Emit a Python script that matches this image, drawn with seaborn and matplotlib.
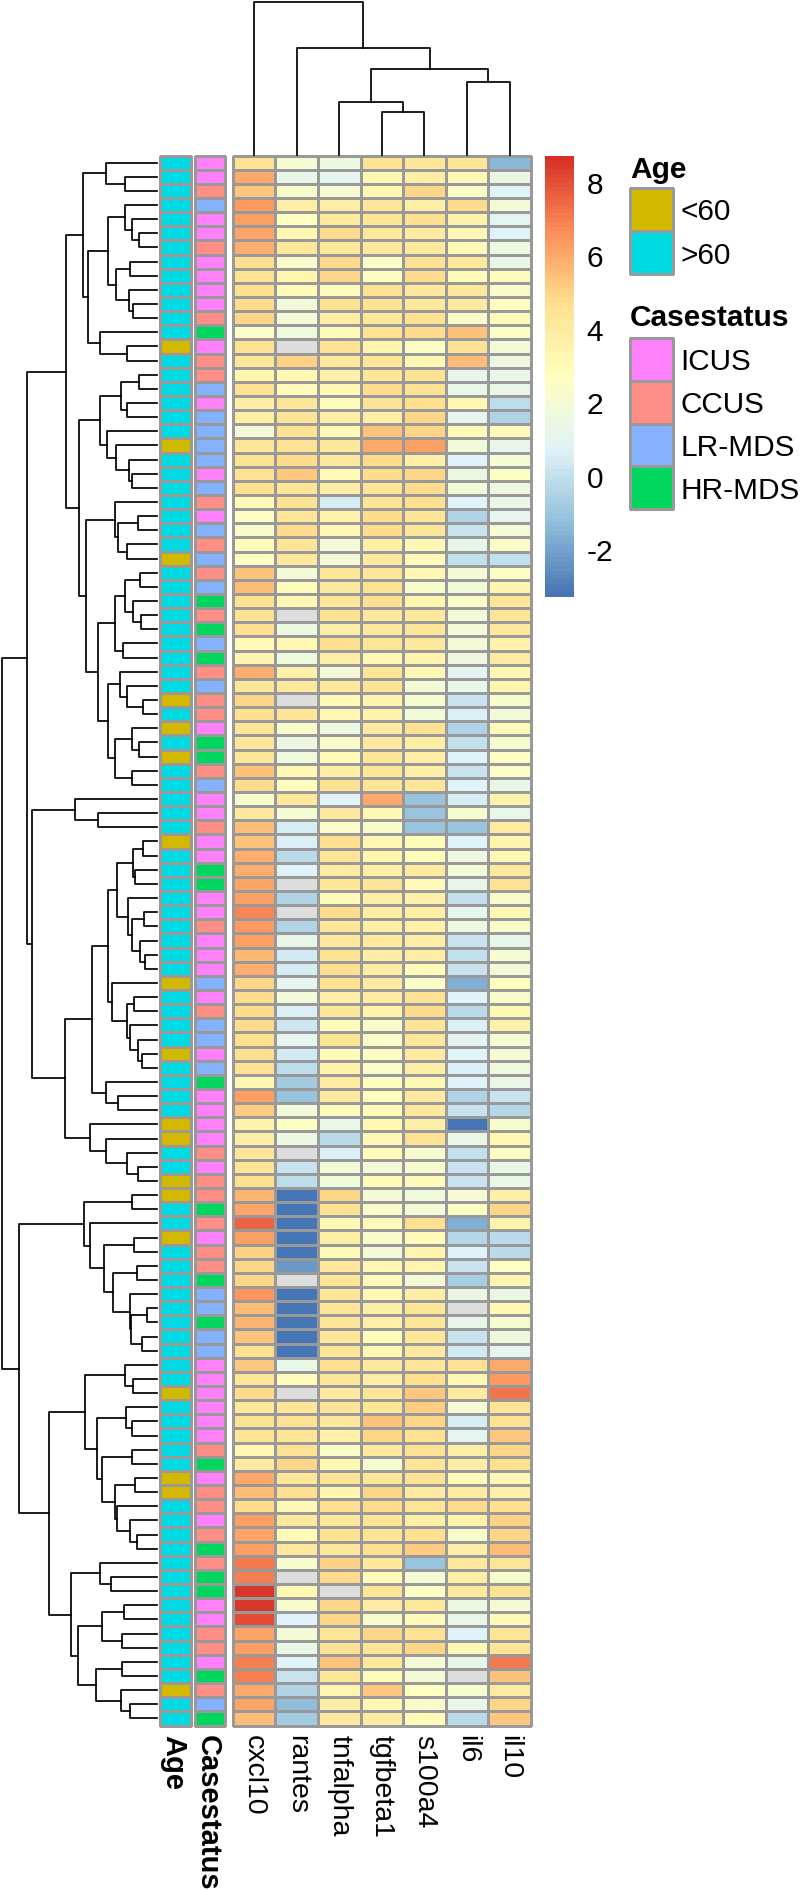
import matplotlib
matplotlib.use('Agg')
import matplotlib.pyplot as plt
from matplotlib.colors import LinearSegmentedColormap, ListedColormap
from matplotlib.transforms import ScaledTranslation, blended_transform_factory
import seaborn as sns
import numpy as np
import pandas as pd

plt.rcParams['font.family'] = ['Liberation Sans', 'DejaVu Sans']
plt.rcParams['axes.unicode_minus'] = False

NA = np.nan

genes = ['cxcl10', 'rantes', 'tnfalpha', 'tgfbeta1', 's100a4', 'il6', 'il10']

cxcl10 = [4.6, 6.0, 5.3, 6.4, 6.3, 6.2, 5.9, 4.7, 4.6, 4.7,
          4.8, 5.0, 2.4, 4.6, 4.3, 3.4, 4.6, 3.8, 3.8, 1.9,
          4.3, 4.6, 4.6, 4.7, 3.0, 2.5, 2.3, 2.9, 2.6, 5.4,
          5.5, 4.6, 4.6, 4.7, 3.0, 3.4, 5.9, 4.3, 5.0, 4.7,
          4.5, 4.3, 4.3, 5.4, 4.8, 2.2, 4.2, 5.6, 5.4, 5.9,
          5.9, 6.2, 6.3, 6.9, 6.4, 6.3, 5.7, 5.9, 4.9, 4.8,
          4.8, 4.8, 4.7, 4.7, 4.6, 3.1, 6.3, 5.2, 3.5, 3.9,
          4.4, 4.5, 4.7, 5.8, 6.1, 7.6, 6.3, 5.1, 5.0, 5.0,
          6.5, 5.5, 5.8, 5.4, 4.7, 5.3, 4.5, 4.8, 4.2, 4.6,
          4.5, 3.2, 4.0, 6.0, 5.6, 4.8, 6.3, 6.1, 6.3, 7.1,
          7.0, 8.5, 8.5, 8.1, 6.2, 6.3, 7.0, 7.0, 6.0, 6.1, 5.5]
rantes = [2.1, 1.3, 2.3, 3.9, 2.7, 3.3, 4.2, 2.3, 3.4, 3.0,
          1.8, 2.0, 1.7, NA, 5.1, 3.3, 2.9, 4.4, 4.5, 4.6,
          4.6, 4.8, 5.3, 4.5, 4.6, 4.3, 4.8, 4.5, 4.2, 2.0,
          2.9, 3.1, NA, 1.6, 3.3, 1.7, 3.6, 4.2, NA, 4.5,
          2.3, 1.5, 1.7, 3.1, 2.8, 4.2, 2.1, 0.5, 0.6, -0.2,
          0.8, NA, -0.4, NA, -0.5, 1.2, 0.4, 0.5, 1.1, 1.8,
          0.6, 0.3, 1.1, 0.4, -0.1, -0.8, -1.0, 1.8, 2.5, 1.6,
          NA, 0.1, -0.1, -3.2, -3.2, -3.2, -3.2, -3.2, -2.3, NA,
          -3.2, -3.2, -3.2, -3.2, -3.2, 1.4, 2.9, NA, 4.3, 4.6,
          4.4, 4.6, 5.0, 4.3, 4.7, 3.1, 4.2, 3.0, 4.1, 2.2,
          NA, 3.3, 2.2, 0.7, 2.0, 1.4, 0.7, 0.1, -0.5, -1.3, -0.8]
tnfalpha = [1.6, 1.1, 2.1, 3.9, 4.1, 4.8, 4.2, 4.8, 4.9, 2.9,
            4.6, 3.9, 3.0, 4.6, 4.1, 3.6, 3.1, 2.9, 3.9, 3.0,
            4.2, 4.2, 3.0, 3.9, 0.5, 3.5, 3.3, 1.9, 1.9, 4.3,
            4.1, 4.3, 4.6, 3.7, 4.7, 3.7, 1.9, 4.2, 3.0, 3.3,
            1.6, 2.3, 3.0, 3.8, 4.6, 0.8, 4.1, 2.4, 4.7, 4.5,
            4.0, 4.4, 3.0, 4.8, 4.3, 4.2, 4.6, 4.7, 4.7, 3.7,
            4.3, 3.0, 4.4, 3.0, 3.5, 4.0, 4.1, 2.9, 1.3, -0.2,
            0.6, 2.0, 1.8, 4.9, 4.6, 3.2, 3.8, 3.0, 4.2, 4.4,
            4.4, 4.3, 4.4, 4.4, 4.3, 4.7, 4.4, 4.0, 4.5, 4.2,
            3.6, 2.4, 3.2, 4.5, 3.4, 4.7, 4.2, 4.6, 4.2, 5.1,
            4.8, NA, 4.9, 5.0, 4.5, 4.6, 5.4, 4.3, 3.4, 3.9, 4.1]
tgfbeta1 = [4.6, 3.3, 3.3, 4.5, 4.4, 4.2, 4.1, 2.4, 2.8, 4.6,
            4.6, 4.2, 4.6, 3.4, 4.4, 4.4, 4.8, 4.6, 3.9, 5.4,
            6.0, 4.8, 4.8, 4.3, 4.5, 4.8, 4.8, 3.8, 4.1, 4.4,
            4.6, 4.7, 4.2, 4.2, 4.4, 3.2, 4.5, 4.5, 3.4, 3.5,
            4.0, 4.1, 4.3, 4.4, 4.5, 6.0, 3.2, 2.3, 3.3, 3.4,
            3.7, 4.5, 3.8, 3.9, 3.8, 4.1, 3.7, 3.9, 4.0, 4.0,
            3.5, 2.3, 2.4, 2.6, 2.4, 2.8, 2.8, 3.0, 3.3, 3.2,
            3.0, 1.9, 3.0, 1.9, 2.4, 3.0, 2.3, 1.9, 3.3, 3.0,
            3.2, 3.7, 3.6, 3.0, 3.1, 4.2, 3.9, 4.3, 4.3, 5.4,
            5.0, 4.1, 2.2, 4.4, 4.9, 4.8, 4.5, 4.5, 4.7, 4.2,
            3.0, 4.5, 4.0, 2.3, 4.9, 4.5, 4.2, 2.9, 5.3, 3.3, 4.0]
s100a4 = [4.4, 3.9, 5.0, 3.7, 4.7, 4.0, 4.0, 4.6, 4.8, 4.2,
          4.2, 4.6, 4.8, 2.6, 3.2, 4.6, 4.6, 4.7, 4.9, 5.0,
          6.3, 3.7, 4.9, 4.8, 4.7, 4.4, 4.3, 3.1, 3.0, 3.3,
          2.3, 3.4, 4.2, 4.4, 4.2, 3.4, 3.1, 2.0, 2.2, 1.8,
          4.6, 3.7, 3.7, 3.7, 4.4, -1.0, -1.1, -1.0, 2.9, 2.9,
          4.0, 3.0, 3.6, 3.7, 3.6, 3.9, 3.9, 3.0, 2.4, 4.6,
          4.8, 4.5, 4.2, 4.0, 3.9, 3.1, 4.1, 4.1, 3.7, 4.6,
          2.2, 2.2, 3.0, 1.7, 2.0, 4.7, 3.0, 3.4, 3.4, 2.0,
          3.9, 4.4, 4.3, 4.3, 4.1, 4.5, 4.7, 5.3, 5.2, 4.9,
          4.6, 4.6, 4.5, 4.6, 4.0, 4.5, 3.8, 4.7, 5.2, -1.0,
          1.9, 2.6, 4.2, 3.0, 4.6, 4.9, 1.9, 1.9, 2.7, 2.3, 3.0]
il6 = [4.4, 3.1, 2.4, 4.8, 3.5, 3.2, 3.0, 4.2, 3.0, 4.2,
       4.1, 2.3, 5.4, 4.6, 5.5, 1.2, 1.3, 3.3, 1.1, 3.0,
       1.8, 0.7, 1.5, 1.8, 0.7, -0.4, 0.2, 1.2, 0.0, 1.9,
       1.8, 2.4, 1.8, 2.0, 2.0, 1.6, 1.0, 1.4, 0.1, 0.6,
       -0.4, 0.0, 0.7, 0.1, 0.7, 0.5, 2.2, -1.0, 0.8, 1.6,
       1.8, 1.2, 0.0, 1.1, 1.6, 0.2, 0.0, 0.1, -1.6, 0.7,
       -0.2, 0.6, 1.0, 0.7, 0.6, 0.8, -0.5, 0.1, -3.2, 1.3,
       0.0, 0.1, 0.1, 2.1, 2.6, -1.7, -0.3, 0.8, 0.1, -0.7,
       1.5, NA, 1.2, 0.1, 0.4, 4.6, 3.2, 4.0, 2.1, 0.5,
       1.0, 3.7, 3.9, 3.0, 4.0, 4.8, 3.5, 2.3, 3.8, 4.2,
       3.8, 4.1, 1.6, 1.4, 0.7, 3.2, 1.2, NA, 2.2, 1.3, -0.2]
il10 = [-1.4, 1.5, 0.9, 2.0, 1.0, 0.7, 1.6, 1.3, 2.9, 2.3,
        2.8, 3.0, 2.6, 2.0, 1.6, 1.3, 1.3, -0.1, -0.4, 2.9,
        1.2, 2.1, 2.6, 1.6, 1.4, 1.1, 2.1, 2.4, 0.0, 2.5,
        3.4, 4.3, 4.5, 4.2, 3.5, 4.0, 3.3, 3.4, 2.2, 1.8,
        3.0, 2.2, 2.6, 2.4, 1.4, 3.5, 1.4, 4.0, 3.4, 3.1,
        4.1, 4.6, 2.3, 3.1, 2.3, 1.2, 2.1, 1.9, 2.8, 2.3,
        3.2, 3.6, 2.1, 2.1, 1.7, 1.4, 0.1, -0.3, 2.2, 3.3,
        2.5, 1.3, 1.3, 3.7, 4.9, 3.5, -0.2, -0.2, 2.7, 3.4,
        1.5, 3.1, 2.2, 1.7, 1.1, 6.0, 6.4, 7.2, 4.5, 4.6,
        5.3, 5.0, 4.7, 3.1, 3.6, 4.7, 5.1, 5.0, 5.5, 4.5,
        2.3, 4.6, 2.0, 3.0, 4.4, 4.4, 7.1, 5.4, 4.0, 5.0, 5.3]

# one letter per row, y = <60, o = >60
age_rows = ('oooooooooo' 'oooyoooooo' 'yoooooooyo' 'ooooooooyo' 'yoyoooooyo' 'ooooooooyo'
            'oooyooooyy' 'ooyyooyooo' 'oooooooyoo' 'oooyyooooo' 'ooooooooyoo')
age_codes = ['y', 'o']
age_labels = ['<60', '>60']
age_colors = ['#D2B900', '#00DAE3']

# one letter per row, I = ICUS, C = CCUS, L = LR-MDS, H = HR-MDS
case_rows = ('IICLIICIII' 'ICHICCLILL' 'LLILCILCLC' 'LHCHLHCLCC' 'IHHCLIICII' 'HHIICIIILI'
             'CLLILHIIII' 'CICCHCICCH' 'LLHLLIIIII' 'ICHICCICHC' 'HHIICCIHCLH')
case_codes = ['I', 'C', 'L', 'H']
case_labels = ['ICUS', 'CCUS', 'LR-MDS', 'HR-MDS']
case_colors = ['#FF80FB', '#FF8F86', '#85B2FF', '#00D65E']

heat_colors = ['#4575B4', '#91BFDB', '#E0F3F8', '#FFFFBF', '#FEE090', '#FC8D59', '#D73027']
value_min = -3.27
value_max = 8.73
bar_ticks = [-2, 0, 2, 4, 6, 8]

# dendrograms: [merge height, upper child, lower child], 0 is a leaf
col_tree = [459, 0, [320, 0, [257, [158, 0, [130, 0, 0]], [218, 0, 0]]]]

rows_a = [212, [145, 0, [92, 0, 0]],
          [197, [140, [90, 0, [71, 0, [52, 0, 0]]],
                 [117, [78, 0, 0], [81, 0, [69, 0, 0]]]],
           [163, 0, [86, 0, 0]]]]
rows_b = [163, [102, [51, 0, 0], [86, 0, 0]],
          [142, 0, [117, 0, [81, 0, [72, 0, 0]]]]]
rows_c = [204, [120, 0, [112, [53, 0, 0], [86, 0, 0]]],
          [168, [120, [90, [48, 0, 0], [67, 0, [45, 0, 0]]], [96, 0, 0]],
           [140, [107, 0, [86, 0, [40, 0, 0]]],
            [119, [71, 0, [50, 0, 0]], [71, 0, 0]]]]]
rows_d = [186, [140, [115, [68, [39, 0, 0], [61, 0, 0]],
                      [82, 0, [72, [36, 0, 0], [48, 0, [32, 0, 0]]]]],
                [128, 0, [86, [65, 0, 0], [76, 0, [53, 0, [43, 0, 0]]]]]],
          [145, 0, [110, 0, 0]]]
rows_e = [193, 0, [147, 0, [84, 0, [54, 0, 0]]]]
rows_f = [210, [71, 0, 0],
          [193, 0, [151, [64, 0, 0],
                    [127, [55, 0, 0], [78, 0, [75, [28, 0, 0], [43, 0, 0]]]]]]]
rows_g = [208, [91, 0, [68, 0, 0]],
          [173, [88, 0, [71, 0, 0]],
           [158, [71, 0, 0], [120, [62, 0, 0], [115, 0, [78, 0, [57, 0, 0]]]]]]]
rows_h = [248, [163, 0, [131, 0, 0]],
          [228, [157, [94, 0, 0], [101, 0, 0]],
           [175, [101, 0, 0], [104, 0, [78, 0, 0]]]]]
row_tree = [448,
            [374, [261, rows_a, [225, rows_b, rows_c]],
             [360, [236, 0, [168, 0, 0]], [265, rows_d, rows_e]]],
            [398, rows_f, [310, rows_g, rows_h]]]

W, H = 800, 1891
GREY = '#999999'

fig = plt.figure(figsize=(W / 100, H / 100), dpi=100)


# axes from pixel edges of the picture
def px_axes(left, top, right, bottom):
    return fig.add_axes([left / W, 1 - bottom / H, (right - left) / W, (bottom - top) / H])


# draw a nested tree, returns position and height of the node
def draw_tree(ax, node, next_leaf, horizontal):
    if node == 0:
        pos = next_leaf[0] + 0.5
        next_leaf[0] += 1
        return pos, 0
    h, upper, lower = node
    p1, h1 = draw_tree(ax, upper, next_leaf, horizontal)
    p2, h2 = draw_tree(ax, lower, next_leaf, horizontal)
    heights = [h1, h, h, h2]
    places = [p1, p1, p2, p2]
    if horizontal:
        ax.plot(heights, places, color='black', lw=1.25, solid_capstyle='projecting', clip_on=False)
    else:
        ax.plot(places, heights, color='black', lw=1.25, solid_capstyle='projecting', clip_on=False)
    return (p1 + p2) / 2, h


# categorical strip or legend box drawn as a one column heatmap
def strip(ax, codes, colors, label=None):
    sns.heatmap(np.array(codes).reshape(-1, 1), ax=ax, cmap=ListedColormap(colors),
                vmin=-0.5, vmax=len(colors) - 0.5, cbar=False, linewidths=1.0, linecolor=GREY,
                xticklabels=[label] if label else False, yticklabels=False)
    ax.collections[0].set_clip_on(False)
    if label:
        ax.tick_params(axis='x', length=0, pad=7)
        ax.set_xticklabels([label], rotation=270, fontsize=21, fontweight='bold', va='top')
        # the bold labels sit a little left of the strip centre
        tick_text = ax.get_xticklabels()[0]
        tick_text.set_transform(tick_text.get_transform() + ScaledTranslation(-2 / 100, 0, fig.dpi_scale_trans))


data = pd.DataFrame(dict(zip(genes, [cxcl10, rantes, tnfalpha, tgfbeta1, s100a4, il6, il10])))
cmap = LinearSegmentedColormap.from_list('heat', heat_colors, N=100)
cmap.set_bad('#DDDDDD')

ax_heat = px_axes(232.8, 155.5, 530.9, 1725.5)
ax_bar = px_axes(545, 156, 574, 597)
sns.heatmap(data, ax=ax_heat, cmap=cmap, vmin=value_min, vmax=value_max, linewidths=1.0, linecolor=GREY,
            cbar_ax=ax_bar, cbar_kws={'ticks': bar_ticks}, yticklabels=False)
ax_heat.collections[0].set_clip_on(False)
ax_heat.tick_params(axis='x', length=0, pad=7)
ax_heat.set_xticklabels(genes, rotation=270, fontsize=20.5, va='top')
ax_bar.tick_params(length=0, pad=9, labelsize=21.5)

# annotation strips
ax_age = px_axes(160, 155.5, 190.5, 1725.5)
strip(ax_age, [age_codes.index(a) for a in age_rows], age_colors, 'Age')
ax_case = px_axes(195, 155.5, 225, 1725.5)
strip(ax_case, [case_codes.index(c) for c in case_rows], case_colors, 'Casestatus')

# row dendrogram
ax_rows = px_axes(1.7, 155.5, 156.5, 1725.5)
draw_tree(ax_rows, row_tree, [0], True)
ax_rows.set_xlim(448, 0)
ax_rows.set_ylim(len(age_rows), 0)
ax_rows.axis('off')

# column dendrogram
ax_cols = px_axes(232.8, 2, 530.9, 155)
draw_tree(ax_cols, col_tree, [0], False)
ax_cols.set_xlim(0, len(genes))
ax_cols.set_ylim(0, 459)
ax_cols.axis('off')

# legends
ax_leg1 = px_axes(629.5, 188, 672.5, 274)
strip(ax_leg1, list(range(len(age_labels))), age_colors)
ax_leg2 = px_axes(629.5, 338, 672.5, 509)
strip(ax_leg2, list(range(len(case_labels))), case_colors)
for ax, labels in [(ax_leg1, age_labels), (ax_leg2, case_labels)]:
    label_trans = blended_transform_factory(fig.transFigure, ax.transData)
    for i, label in enumerate(labels):
        ax.text(680.5 / W, i + 0.5, label, fontsize=21.4, va='center_baseline', ha='left',
                transform=label_trans)
fig.text(630 / W, 1 - 170.5 / H, 'Age', fontsize=21.5, fontweight='bold', va='center', ha='left')
fig.text(630 / W, 1 - 318 / H, 'Casestatus', fontsize=21.5, fontweight='bold', va='center', ha='left')

fig.savefig('out.png', dpi=100)
